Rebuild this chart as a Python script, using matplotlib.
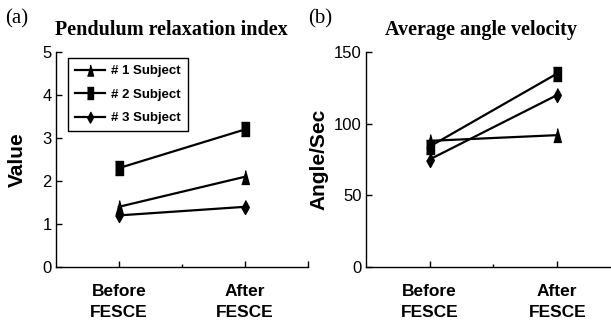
import matplotlib.pyplot as plt
from matplotlib.lines import Line2D

# data
conditions = ["Before\nFESCE", "After\nFESCE"]
subjects = ["# 1 Subject", "# 2 Subject", "# 3 Subject"]
relax_index = [[1.4, 2.1], [2.3, 3.2], [1.2, 1.4]]
angle_velocity = [[88, 92], [84, 135], [75, 120]]

# tall, narrow markers like in the original figure
tri = [(0, 1), (0.55, -1), (-0.55, -1)]
sq = [(-0.55, -1), (0.55, -1), (0.55, 1), (-0.55, 1)]
dia = [(0, 1), (0.55, 0), (0, -1), (-0.55, 0)]
markers = [tri, sq, dia]

plt.rcParams["font.family"] = "Liberation Sans"

fig = plt.figure(figsize=(6.11, 3.22), dpi=100)
ax1 = fig.add_axes([0.0912, 0.1708, 0.4134, 0.6677])
ax2 = fig.add_axes([0.5985, 0.1708, 0.4180, 0.6677])

x = [1, 2]


def style(ax, ymax, yticks):
    for s in ["top", "right"]:
        ax.spines[s].set_visible(False)
    for s in ["left", "bottom"]:
        ax.spines[s].set_linewidth(1.0)
    ax.set_xlim(0.5, 2.5)
    ax.set_ylim(0, ymax)
    ax.set_yticks(yticks)
    ax.set_xticks([1, 2, 2.5], labels=conditions + [""])
    ax.set_xticks([1.5], minor=True)
    ax.tick_params(direction="in", length=4, width=1, labelsize=12, pad=3)
    ax.tick_params(axis="x", which="minor", direction="in", length=2, width=1)
    ax.tick_params(axis="x", pad=12)
    for lab in ax.get_xticklabels():
        lab.set_fontweight("bold")
        lab.set_fontsize(12.5)
        lab.set_linespacing(1.55)


for i in range(3):
    ax1.plot(x, relax_index[i], color="black", lw=1.6, marker=markers[i],
             markersize=10, label=subjects[i])
    ax2.plot(x, angle_velocity[i], color="black", lw=1.6, marker=markers[i],
             markersize=10, label=subjects[i])

style(ax1, 5, [0, 1, 2, 3, 4, 5])
style(ax2, 150, [0, 50, 100, 150])

ax1.set_ylabel("Value", fontsize=15, fontweight="bold", labelpad=11)
ax2.set_ylabel("Angle/Sec", fontsize=15, fontweight="bold", labelpad=4)

handles = [Line2D([0], [0], color="black", lw=1.6, marker=m, markersize=8)
           for m in markers]
leg = ax1.legend(handles, subjects, loc="upper left", bbox_to_anchor=(0.05, 0.97),
                 frameon=True, fancybox=False, edgecolor="black", framealpha=1,
                 prop={"weight": "bold", "size": 9.5}, handlelength=2.3,
                 labelspacing=0.85, borderpad=0.5, handletextpad=0.45,
                 borderaxespad=0)
leg.get_frame().set_linewidth(1.0)

fig.text(171 / 611, 1 - 30 / 322, "Pendulum relaxation index", ha="center",
         va="center", family="Liberation Serif", fontweight="bold", fontsize=14.5)
fig.text(481 / 611, 1 - 30 / 322, "Average angle velocity", ha="center",
         va="center", family="Liberation Serif", fontweight="bold", fontsize=14.5)
fig.text(5 / 611, 1 - 19 / 322, "(a)", ha="left", va="center",
         family="Liberation Serif", fontsize=15)
fig.text(308 / 611, 1 - 19 / 322, "(b)", ha="left", va="center",
         family="Liberation Serif", fontsize=15)

fig.savefig("out.png", dpi=100)
